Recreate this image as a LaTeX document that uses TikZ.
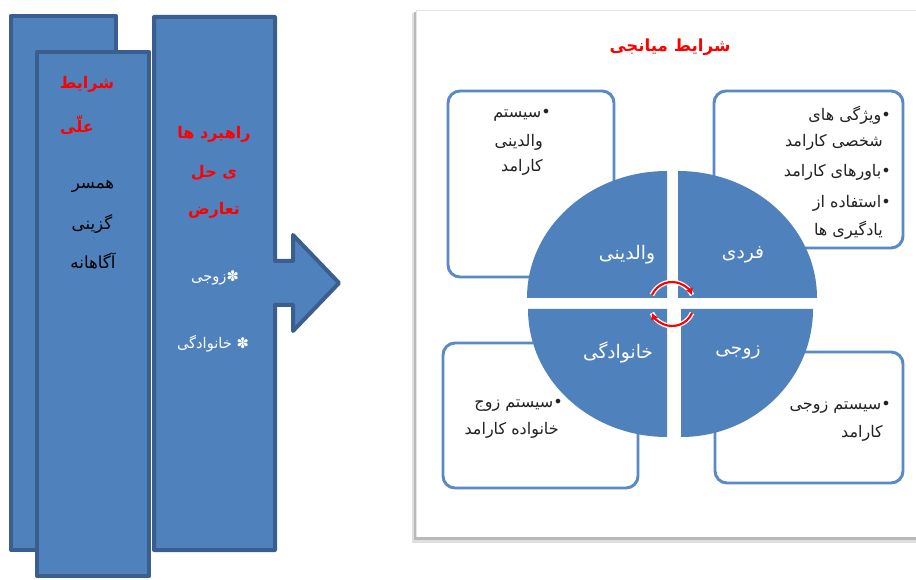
\documentclass[tikz,border=0pt]{standalone}
\usepackage{fontspec}
\usetikzlibrary{arrows.meta}
\setmainfont{DejaVu Sans}
\newfontfamily\arf[Script=Arabic]{DejaVu Sans}
\TeXXeTstate=1
\newcommand\myrl[1]{\beginR #1\endR}
\definecolor{fillb}{HTML}{4F81BD}
\definecolor{edgeb}{HTML}{3A5F8E}
\definecolor{boxb}{HTML}{5A8AC6}
\definecolor{txtg}{HTML}{222222}
\begin{document}
\begin{tikzpicture}[x=0.75pt,y=-0.75pt,
  bar/.style={fill=fillb, draw=edgeb, line width=3pt, line join=round},
  rbox/.style={fill=white, draw=boxb, line width=2.2pt, rounded corners=9pt},
  quad/.style={fill=fillb},
  redt/.style={font=\arf\bfseries\fontsize{12}{14}\selectfont, text=red, inner sep=0pt},
  blk/.style={font=\arf\fontsize{12.5}{14}\selectfont, text=black, inner sep=0pt},
  wht/.style={font=\arf\fontsize{11}{13}\selectfont, text=white, inner sep=0pt},
  boxt/.style={font=\arf\fontsize{12}{14}\selectfont, text=txtg, inner sep=0pt, anchor=east},
  qlab/.style={font=\arf\fontsize{14}{16}\selectfont, text=white, inner sep=0pt},
  titl/.style={font=\arf\bfseries\fontsize{12.5}{15}\selectfont, text=red, inner sep=0pt},
  cyc/.style={red, line width=1.6pt}
]
\useasboundingbox (0,0) rectangle (916,580);
\fill[white] (0,0) rectangle (916,580);

% left bars
\draw[bar] (11,16) rectangle (116,550);
\draw[bar] (37,52) rectangle (149,576);
\draw[bar] (154,17) -- (275,17) -- (275,261) -- (293,261) -- (293,235) -- (339,283)
  -- (293,331) -- (293,305) -- (275,305) -- (275,550) -- (154,550) -- cycle;

\node[redt] (t1) at (87,84) {\myrl{شرایط}};
\node[redt] (t2) at (77,125) {\myrl{علّی}};
\node[blk] (t3) at (93,186) {\myrl{همسر}};
\node[blk] (t4) at (92,224) {\myrl{گزینی}};
\node[blk] (t5) at (93,261) {\myrl{آگاهانه}};
\node[redt] (t6) at (214,134) {\myrl{راهبرد ها}};
\node[redt] (t7) at (214,173) {\myrl{ی حل}};
\node[redt] (t8) at (214,210) {\myrl{تعارض}};
\node[wht] (t9) at (215,278) {\myrl{✽زوجی}};
\node[wht] (t10) at (213,344) {\myrl{✽ خانوادگی}};

% right panel with shadow
\fill[gray!25] (412,13) rectangle (920,543);
\fill[gray!55] (414,12) rectangle (920,540);
\fill[white] (416,10) rectangle (920,537);
\draw[gray!20, line width=0.6pt] (416,537) -- (416,10) -- (920,10);

\node[titl] (title) at (670,47) {\myrl{شرایط میانجی}};

% boxes
\draw[rbox] (448,91) rectangle (614,277);
\draw[rbox] (714,91) rectangle (903,248);
\draw[rbox] (443,343) rectangle (638,488);
\draw[rbox] (715,352) rectangle (903,483);

% quadrants
\fill[quad] (667,298) -- (527,298) arc[start angle=180, end angle=270, x radius=140, y radius=127] -- cycle;
\fill[quad] (678,298) -- (678,171) arc[start angle=270, end angle=360, x radius=139, y radius=127] -- cycle;
\fill[quad] (667,309) -- (528,309) arc[start angle=180, end angle=90, x radius=139, y radius=128] -- cycle;
\fill[quad] (681,309) -- (813,309) arc[start angle=0, end angle=90, x radius=132, y radius=128] -- cycle;

\node[qlab] (q1) at (627,255) {\myrl{والدینی}};
\node[qlab] (q2) at (743,255) {\myrl{فردی}};
\node[qlab] (q3) at (618,352) {\myrl{خانوادگی}};
\node[qlab] (q4) at (738,352) {\myrl{زوجی}};

% cycle arrows
\draw[white, line width=3.6pt] (672,304) ++(204:22) arc[start angle=204, end angle=336, radius=22];
\draw[white, line width=3.6pt] (672,304) ++(24:22) arc[start angle=24, end angle=156, radius=22];
\draw[cyc, -{Latex[length=5pt,width=6pt]}] (672,304) ++(204:22) arc[start angle=204, end angle=336, radius=22];
\draw[cyc, -{Latex[length=5pt,width=6pt]}] (672,304) ++(24:22) arc[start angle=24, end angle=156, radius=22];

% box texts
\node[boxt] (a1) at (551,115) {\myrl{•سیستم}};
\node[boxt] (a2) at (543,142) {\myrl{والدینی}};
\node[boxt] (a3) at (543,167) {\myrl{کارامد}};

\node[boxt] (b1) at (891,115) {\myrl{•ویژگی های}};
\node[boxt] (b2) at (883,142) {\myrl{شخصی کارامد}};
\node[boxt] (b3) at (891,172) {\myrl{•باورهای کارامد}};
\node[boxt] (b4) at (891,203) {\myrl{•استفاده از}};
\node[boxt] (b5) at (883,230) {\myrl{یادگیری ها}};

\node[boxt] (c1) at (563,405) {\myrl{•سیستم زوج}};
\node[boxt] (c2) at (559,430) {\myrl{خانواده کارامد}};

\node[boxt] (d1) at (891,407) {\myrl{•سیستم زوجی}};
\node[boxt] (d2) at (883,433) {\myrl{کارامد}};
\end{tikzpicture}
\end{document}
